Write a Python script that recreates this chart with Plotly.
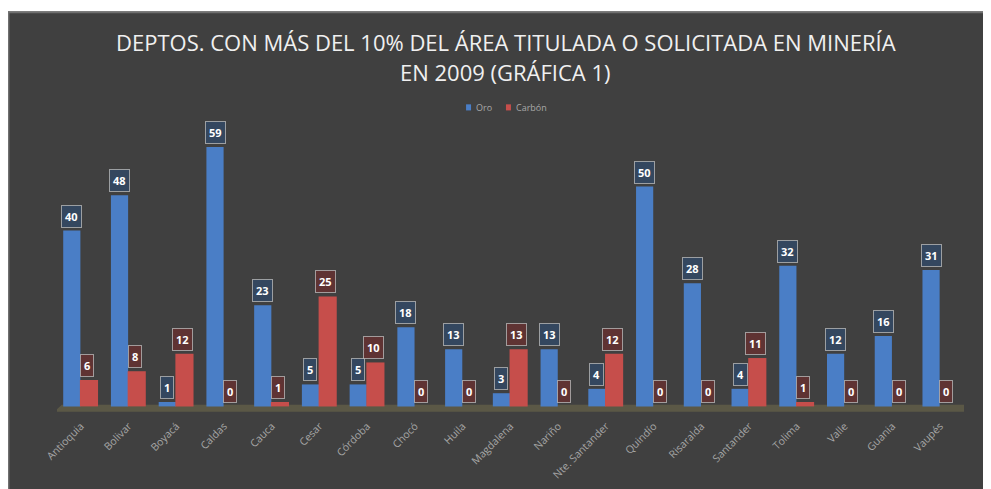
import plotly.graph_objects as go

categories = ["Antioquia", "Bolivar", "Boyacá", "Caldas", "Cauca", "Cesar", "Córdoba",
              "Chocó", "Huila", "Magdalena", "Nariño", "Nte. Santander", "Quindío",
              "Risaralda", "Santander", "Tolima", "Valle", "Guania", "Vaupés"]
oro = [40, 48, 1, 59, 23, 5, 5, 18, 13, 3, 13, 4, 50, 28, 4, 32, 12, 16, 31]
carbon = [6, 8, 12, 0, 1, 25, 10, 0, 0, 13, 0, 12, 0, 0, 11, 1, 0, 0, 0]

BG = "#404040"
BLUE = "#4a7ec6"
RED = "#c64e4b"
FONT = "Open Sans"
idx = list(range(len(categories)))
W = 0.36

fig = go.Figure()
fig.add_trace(go.Bar(x=idx, y=oro, name="Oro", marker=dict(color=BLUE, line=dict(width=0)),
                     offset=-0.37, width=W, showlegend=False))
fig.add_trace(go.Bar(x=idx, y=carbon, name="Carbón", marker=dict(color=RED, line=dict(width=0)),
                     offset=-0.02, width=W + 0.02, showlegend=False))

ann = []
for i, v in enumerate(oro):
    ann.append(dict(x=i - 0.37 + W / 2, y=v, xref="x", yref="y", text="<b>%d</b>" % v,
                    showarrow=False, yanchor="bottom", yshift=3,
                    font=dict(size=11, color="#ffffff", family=FONT),
                    bgcolor="#34475f", bordercolor="rgba(190,190,190,0.75)",
                    borderwidth=1, borderpad=3))
for i, v in enumerate(carbon):
    ann.append(dict(x=i - 0.02 + (W + 0.02) / 2 - 0.04, y=v, xref="x", yref="y", text="<b>%d</b>" % v,
                    showarrow=False, yanchor="bottom", yshift=3,
                    font=dict(size=11, color="#ffffff", family=FONT),
                    bgcolor="#5f3333", bordercolor="rgba(190,190,190,0.75)",
                    borderwidth=1, borderpad=3))

# title lines
ann.append(dict(x=0.495, y=1.338, xref="paper", yref="paper", showarrow=False,
                text="DEPTOS. CON MÁS DEL 10% DEL ÁREA TITULADA O SOLICITADA EN MINERÍA",
                font=dict(size=22, color="#f0f0f0", family=FONT), xanchor="center", yanchor="middle"))
ann.append(dict(x=0.495, y=1.2296, xref="paper", yref="paper", showarrow=False,
                text="EN 2009 (GRÁFICA 1)",
                font=dict(size=22, color="#f0f0f0", family=FONT), xanchor="center", yanchor="middle"))
# legend texts
legend_y = 1.1033
ann.append(dict(x=0.4598, y=legend_y, xref="paper", yref="paper", showarrow=False, text="Oro",
                font=dict(size=9, color="#a8a8a8", family=FONT), xanchor="left", yanchor="middle"))
ann.append(dict(x=0.504, y=legend_y, xref="paper", yref="paper", showarrow=False, text="Carbón",
                font=dict(size=9, color="#a8a8a8", family=FONT), xanchor="left", yanchor="middle"))

shapes = [
    # white strip above the panel and panel border
    dict(type="rect", xref="paper", yref="paper", x0=-0.1, x1=1.1, y0=1.4498, y1=1.5,
         fillcolor="#ffffff", line=dict(width=0), layer="below"),
    dict(type="line", xref="paper", yref="paper", x0=-0.054, x1=1.1, y0=1.4465, y1=1.4465,
         line=dict(color="#707070", width=2), layer="below"),
    dict(type="line", xref="paper", yref="paper", x0=-0.0535, x1=-0.0535, y0=-0.5, y1=1.4498,
         line=dict(color="#707070", width=2), layer="below"),
    # floor
    dict(type="path", xref="x", yref="y",
         path="M -0.55,-1.2 L 18.7,-1.2 L 18.55,0.4 L -0.4,0.4 Z",
         fillcolor="#5b5846", line=dict(width=0), layer="below"),
    # legend markers
    dict(type="rect", xref="paper", yref="paper", x0=0.451, x1=0.4565, y0=legend_y - 0.011,
         y1=legend_y + 0.011, fillcolor=BLUE, line=dict(width=0)),
    dict(type="rect", xref="paper", yref="paper", x0=0.495, x1=0.5005, y0=legend_y - 0.011,
         y1=legend_y + 0.011, fillcolor=RED, line=dict(width=0)),
]

fig.update_layout(
    width=983, height=481,
    margin=dict(l=49, r=27, t=128, b=76, autoexpand=False),
    paper_bgcolor=BG,
    plot_bgcolor="rgba(0,0,0,0)",
    barmode="overlay",
    showlegend=False,
    xaxis=dict(range=[-0.5, 18.5], tickmode="array", tickvals=idx, ticktext=categories,
               tickangle=-45, showgrid=False, zeroline=False, showline=False, automargin=False,
               ticks="outside", ticklen=2, tickcolor="rgba(0,0,0,0)",
               tickfont=dict(size=10.5, color="#a6a6a6", family=FONT), fixedrange=True),
    yaxis=dict(range=[-1.5, 61.5], visible=False, showgrid=False, zeroline=False,
               automargin=False, fixedrange=True),
    annotations=ann,
    shapes=shapes,
)

fig.write_html("out.html")
